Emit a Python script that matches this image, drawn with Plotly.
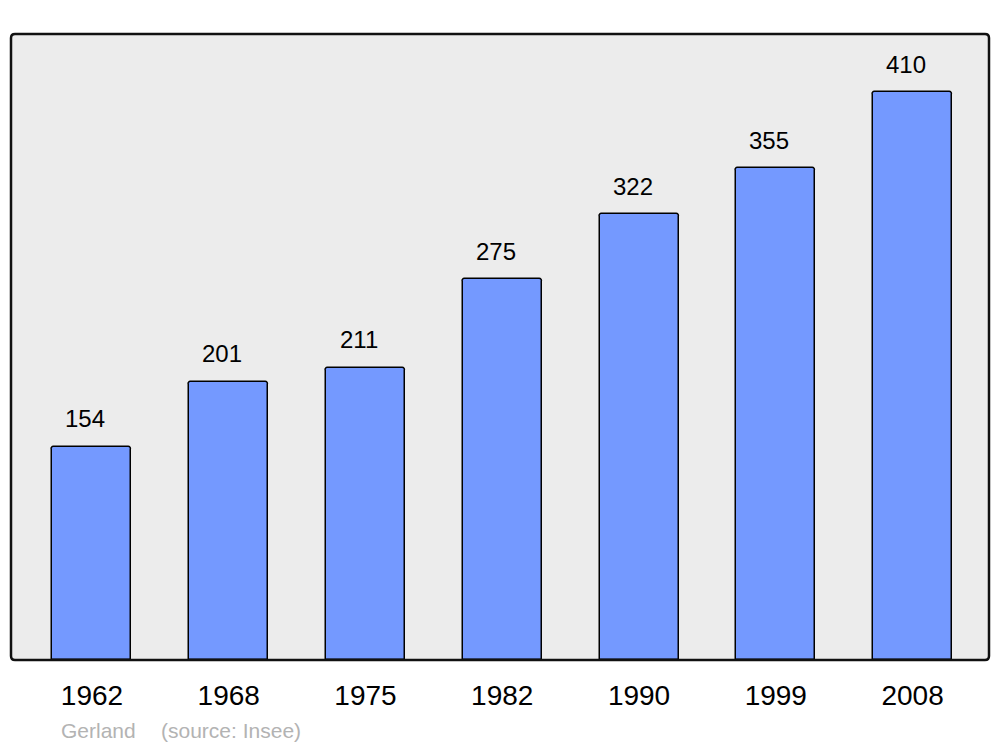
import plotly.graph_objects as go

years = ["1962", "1968", "1975", "1982", "1990", "1999", "2008"]
population = [154, 201, 211, 275, 322, 355, 410]
place = "Gerland"
source = "(source: Insee)"

W, H = 1000, 747
ml, mr, mt, mb = 11, 11, 34, 87
pw, ph = W - ml - mr, H - mt - mb

xs = list(range(len(years)))

fig = go.Figure()
fig.add_trace(go.Bar(
    x=xs, y=population, width=0.578,
    marker=dict(color="#7499ff", line=dict(color="#000000", width=1.5), cornerradius=3),
    hoverinfo="skip",
))

for x, v in zip(xs, population):
    fig.add_annotation(x=x, y=v, text=str(v), showarrow=False, yanchor="middle",
                       yshift=28, xshift=-6.5,
                       font=dict(family="Liberation Sans, Arial", size=24, color="#000"))

# rounded frame
rx, ry = 4 / pw, 4 / ph
path = (f"M {rx},0 L {1-rx},0 Q 1,0 1,{ry} L 1,{1-ry} Q 1,1 {1-rx},1 "
        f"L {rx},1 Q 0,1 0,{1-ry} L 0,{ry} Q 0,0 {rx},0 Z")
fig.add_shape(type="path", xref="paper", yref="paper", path=path,
              line=dict(color="#111111", width=2.5), layer="above")

fig.add_annotation(xref="paper", yref="paper", x=(59 - ml) / pw, y=-(730 - 660) / ph,
                   xanchor="left", yanchor="middle", showarrow=False, text=place,
                   font=dict(family="Liberation Sans, Arial", size=21, color="#b3b3b3"))
fig.add_annotation(xref="paper", yref="paper", x=(159 - ml) / pw, y=-(730 - 660) / ph,
                   xanchor="left", yanchor="middle", showarrow=False, text=source,
                   font=dict(family="Liberation Sans, Arial", size=21, color="#b3b3b3"))

fig.update_layout(
    width=W, height=H,
    margin=dict(l=ml, r=mr, t=mt, b=mb),
    paper_bgcolor="white", plot_bgcolor="#ececec",
    showlegend=False,
    bargap=0,
    xaxis=dict(range=[-0.592, 6.559], tickmode="array", tickvals=xs, ticktext=years,
               showgrid=False, zeroline=False, ticks="", showline=False,
               tickfont=dict(family="Liberation Sans, Arial", size=28, color="#000"),
               ticklabelstandoff=16, fixedrange=True),
    yaxis=dict(range=[0, 452], showgrid=False, zeroline=False, showticklabels=False,
               ticks="", showline=False, fixedrange=True),
)

fig.write_html("out.html", config={"displayModeBar": False},
               post_script="document.body.style.margin='0';")
